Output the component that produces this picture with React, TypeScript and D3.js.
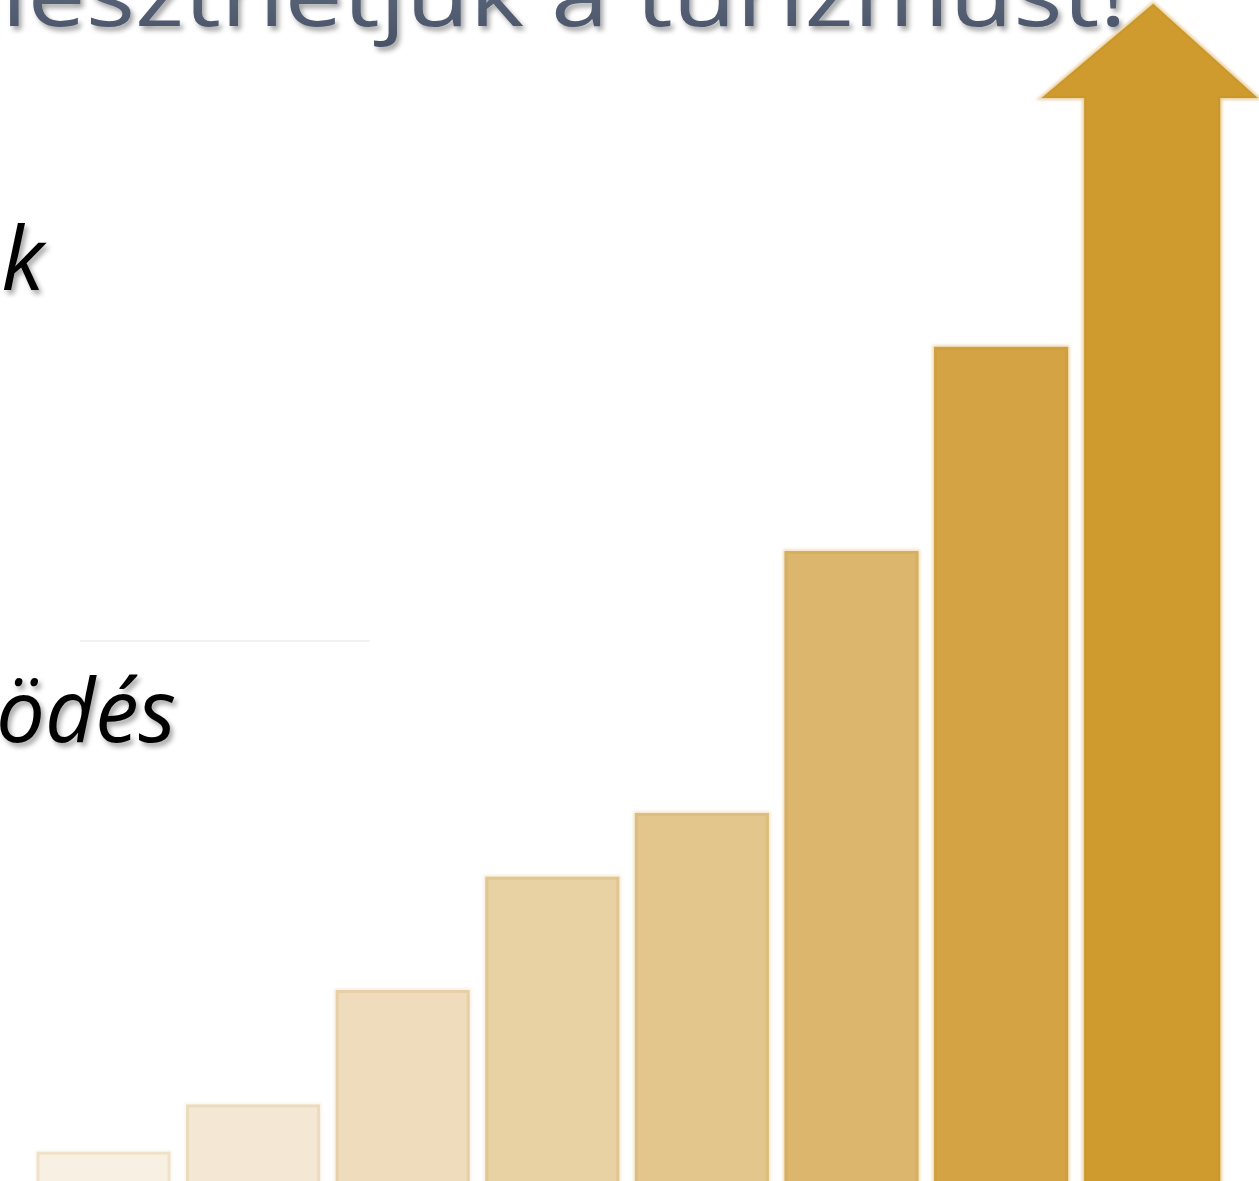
import React from "react";
import * as d3 from "d3";

const categories = ["1", "2", "3", "4", "5", "6", "7", "8"];
const values = [2.7, 6.7, 16.4, 26.0, 31.4, 53.6, 70.9, 100];
const barColors = ["#f8f0e2", "#f4e8d4", "#efdcbc", "#e8d1a2", "#e3c68c", "#dbb66c", "#d4a444", "#cf9a2e"];
const titleText = "fejleszthetjük a turizmust!";
const bulletTexts = ["k", "ödés"];

const W = 1259;
const H = 1181;

export default function App() {
  const x = d3.scaleBand<string>().domain(categories).range([28.7, 1225.5]).paddingInner(0.124).paddingOuter(0.062);
  const y = d3.scaleLinear().domain([0, 100]).range([1185, 5]);
  const n = categories.length;
  const lastCat = categories[n - 1];
  const bw = x.bandwidth();
  const ax = x(lastCat)!;
  const headBase = y(92.2);
  const shaftR = ax + bw + 3;
  const tipX = (ax + shaftR) / 2 + 1;
  const arrowPath = d3.path();
  arrowPath.moveTo(ax, y(0));
  arrowPath.lineTo(ax, headBase);
  arrowPath.lineTo(ax - 41, headBase);
  arrowPath.lineTo(tipX, y(values[n - 1]));
  arrowPath.lineTo(shaftR + 36, headBase);
  arrowPath.lineTo(shaftR, headBase);
  arrowPath.lineTo(shaftR, y(0));
  arrowPath.closePath();

  return (
    <svg width={W} height={H} style={{ position: "absolute", left: 0, top: 0, background: "#fff" }}>
      <defs>
        <filter id="ts" x="-10%" y="-20%" width="130%" height="160%">
          <feDropShadow dx="3" dy="4" stdDeviation="2.5" floodColor="#000" floodOpacity="0.35" />
        </filter>
        <filter id="glow" x="-10%" y="-10%" width="120%" height="120%">
          <feGaussianBlur stdDeviation="1.5" />
        </filter>
        <linearGradient id="tg" x1="0" y1="0" x2="0" y2="1">
          <stop offset="0" stopColor="#6b768b" />
          <stop offset="1" stopColor="#465064" />
        </linearGradient>
      </defs>
      <rect width={W} height={H} fill="#fff" />
      <line x1={80} x2={370} y1={641} y2={641} stroke="#f3f3f3" strokeWidth={2} />
      <text
        x={-118}
        y={26}
        textLength={1245}
        lengthAdjust="spacingAndGlyphs"
        fontFamily="'Open Sans', sans-serif"
        fontSize={88}
        fill="url(#tg)"
        filter="url(#ts)"
      >
        {titleText}
      </text>
      <text x={44} y={290} textAnchor="end" fontFamily="'Open Sans', sans-serif" fontStyle="italic" fontWeight={500} fontSize={87} fill="#000" filter="url(#ts)">
        {bulletTexts[0]}
      </text>
      <text x={176} y={742} textAnchor="end" fontFamily="'Open Sans', sans-serif" fontStyle="italic" fontWeight={500} fontSize={87} fill="#000" filter="url(#ts)">
        {bulletTexts[1]}
      </text>
      {categories.slice(0, n - 1).map((c, i) => {
        const bx = x(c)!;
        const by = y(values[i]);
        const col = barColors[i];
        const light = d3.interpolateRgb(col, "#ffffff")(0.55);
        const dark = d3.interpolateRgb(col, "#b07810")(0.12);
        return (
          <g key={c}>
            <rect x={bx - 3} y={by - 3} width={bw + 6} height={y(0) - by + 6} fill={light} filter="url(#glow)" />
            <rect x={bx} y={by} width={bw} height={y(0) - by} fill={col} stroke={dark} strokeWidth={3} />
          </g>
        );
      })}
      <path d={arrowPath.toString()} fill={d3.interpolateRgb(barColors[n - 1], "#ffffff")(0.55)} stroke={d3.interpolateRgb(barColors[n - 1], "#ffffff")(0.55)} strokeWidth={6} filter="url(#glow)" />
      <path d={arrowPath.toString()} fill={barColors[n - 1]} stroke={d3.interpolateRgb(barColors[n - 1], "#b07810")(0.12)} strokeWidth={2} />
    </svg>
  );
}
